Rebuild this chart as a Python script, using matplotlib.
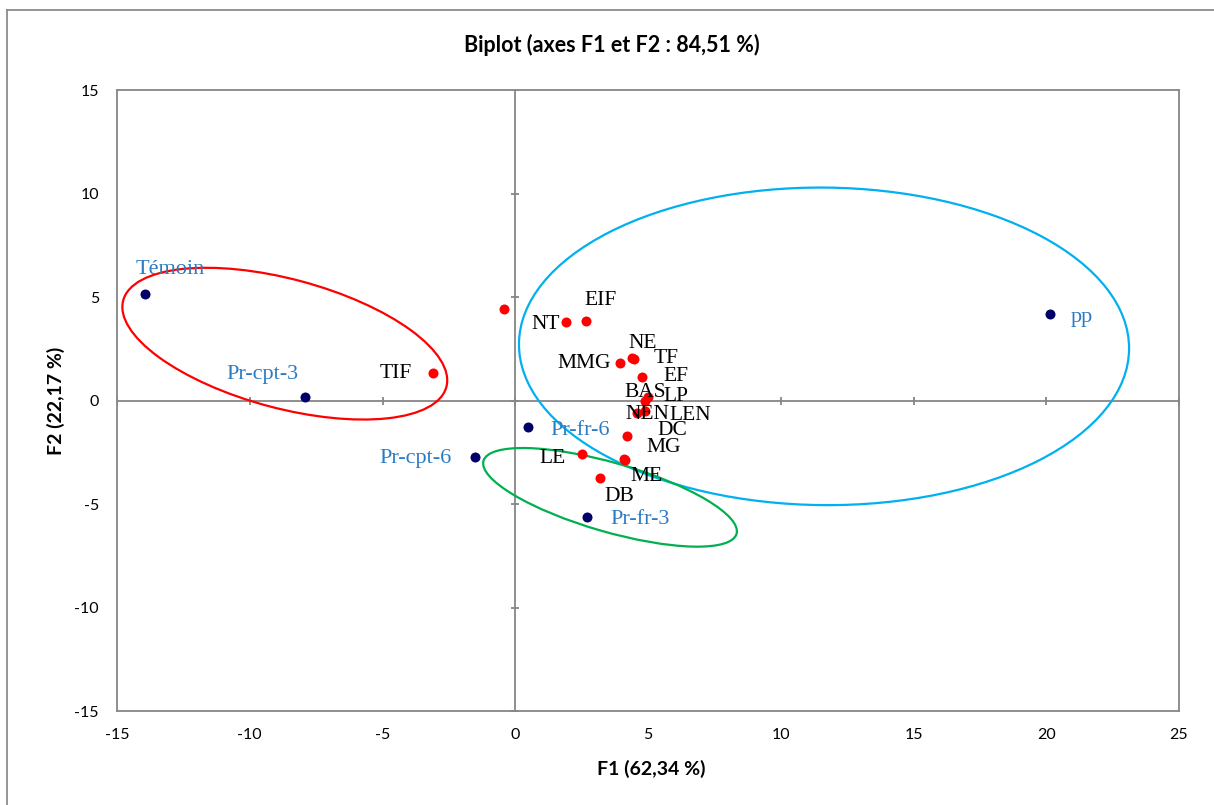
import matplotlib
matplotlib.use("Agg")
import matplotlib.pyplot as plt
from matplotlib.patches import Ellipse
from matplotlib.lines import Line2D
from matplotlib.transforms import Affine2D

plt.rcParams["axes.unicode_minus"] = False

# observations (blue) on F1/F2
obs_names = ["Témoin", "Pr-cpt-3", "Pr-cpt-6", "Pr-fr-6", "Pr-fr-3", "pp"]
obs_f1 = [-13.95, -7.91, -1.52, 0.48, 2.70, 20.14]
obs_f2 = [5.16, 0.19, -2.71, -1.27, -5.64, 4.20]

# variables (red) on F1/F2
var_names = ["", "NT", "EIF", "TIF", "MMG", "NE", "TF", "EF", "BAS", "LP",
             "NEN", "LEN", "DC", "MG", "LE", "ME", "DB"]
var_f1 = [-0.42, 1.93, 2.68, -3.09, 3.95, 4.41, 4.49, 4.79, 4.89, 5.00,
          4.60, 4.88, 4.22, 4.11, 2.53, 4.12, 3.18]
var_f2 = [4.42, 3.79, 3.85, 1.35, 1.84, 2.05, 2.00, 1.13, 0.00, 0.16,
          -0.61, -0.48, -1.69, -2.82, -2.59, -2.86, -3.72]

x_ticks = [-15, -10, -5, 0, 5, 10, 15, 20, 25]
y_ticks = [-15, -10, -5, 0, 5, 10, 15]

# label offsets in pixels (dx, dy) -- layout only
obs_offsets = {"Témoin": (25, 25), "Pr-cpt-3": (-43, 22), "Pr-cpt-6": (-59, -2),
               "Pr-fr-6": (52, -3), "Pr-fr-3": (53, -2), "pp": (32, -4)}
var_offsets = {"NT": (-21, -2), "EIF": (14, 21), "TIF": (-37, -1), "MMG": (-36, -1),
               "NE": (10, 15), "TF": (32, 1), "EF": (34, 1), "BAS": (0, 8),
               "LP": (28, 1), "NEN": (10, -1), "LEN": (45, -5), "DC": (45, 5),
               "MG": (39, 12), "LE": (-30, -4), "ME": (22, -17), "DB": (20, -19)}

# group ellipses: center (F1, F2), semi-axes in screen-equivalent F1 units, angle
ellipses = [
    ((-8.68, 2.76), 6.30, 2.43, -15.0, "#ff0000"),
    ((11.63, 2.63), 11.49, 5.98, -0.5, "#00b0f0"),
    ((3.57, -4.67), 4.96, 1.30, -16.1, "#00b050"),
]

GREY = "#868686"
NAVY = "#000066"
LBLUE = "#2b7bc4"

fig = plt.figure(figsize=(12.14, 8.05), dpi=100)
ax = fig.add_axes([117 / 1214, 1 - 711 / 805, (1179 - 117) / 1214, (711 - 90.5) / 805])

ax.set_xlim(-15, 25)
ax.set_ylim(-15, 15)
ax.set_xticks(x_ticks)
ax.set_yticks(y_ticks)
for s in ax.spines.values():
    s.set_color(GREY)
    s.set_linewidth(1.3)
ax.tick_params(length=0, labelsize=11.5)
ax.tick_params(axis="x", pad=12)
ax.tick_params(axis="y", pad=13)
for lab in ax.get_xticklabels() + ax.get_yticklabels():
    lab.set_family("Lato")

# central axes with cross ticks
ax.axhline(0, color=GREY, lw=1.3, zorder=1)
ax.axvline(0, color=GREY, lw=1.3, zorder=1)
ax.plot(x_ticks, [0] * len(x_ticks), ls="none", marker="|", ms=6, mew=1.3, color=GREY, zorder=1)
ax.plot([0] * len(y_ticks), y_ticks, ls="none", marker="_", ms=6, mew=1.3, color=GREY, zorder=1)

# ellipses drawn in an aspect-corrected frame so angles match the picture
bb = ax.get_position()
w_px = bb.width * fig.get_figwidth()
h_px = bb.height * fig.get_figheight()
k = (h_px / 30) / (w_px / 40)
tr = Affine2D().scale(1, 1 / k) + ax.transData
for (cx, cy), a, b, ang, col in ellipses:
    e = Ellipse((cx, cy * k), 2 * a, 2 * b, angle=ang, fill=False,
                ec=col, lw=1.6, transform=tr, zorder=2)
    ax.add_patch(e)

ax.scatter(var_f1, var_f2, s=52, color="#ff0000", zorder=3, linewidths=0)
ax.scatter(obs_f1, obs_f2, s=52, color=NAVY, zorder=3, linewidths=0)

serif = "Liberation Serif"
for n, x, y in zip(var_names, var_f1, var_f2):
    if not n:
        continue
    ax.annotate(n, (x, y), xytext=var_offsets[n], textcoords="offset pixels",
                ha="center", va="center", fontsize=15.5, family=serif,
                color="black", zorder=4)
for n, x, y in zip(obs_names, obs_f1, obs_f2):
    ax.annotate(n, (x, y), xytext=obs_offsets[n], textcoords="offset pixels",
                ha="center", va="center", fontsize=16, family=serif,
                color=LBLUE, zorder=4)

fig.text(612 / 1214, 1 - 45 / 805, "Biplot (axes F1 et F2 : 84,51 %)",
         ha="center", va="center", fontsize=15.5, fontweight="bold", family="Lato")
fig.text(651 / 1214, 1 - 769 / 805, "F1 (62,34 %)", ha="center", va="center",
         fontsize=14, fontweight="bold", family="Lato")
fig.text(56 / 1214, 1 - 401 / 805, "F2 (22,17 %)", ha="center", va="center",
         rotation=90, fontsize=14, fontweight="bold", family="Lato")

# outer chart border (cropped on right/bottom)
fig.add_artist(Line2D([7 / 1214, 7 / 1214], [0, 1 - 10 / 805], transform=fig.transFigure,
                      color="#8c8c8c", lw=1.3))
fig.add_artist(Line2D([7 / 1214, 1], [1 - 10 / 805, 1 - 10 / 805], transform=fig.transFigure,
                      color="#8c8c8c", lw=1.3))

fig.savefig("out.png", dpi=100, facecolor="white")
